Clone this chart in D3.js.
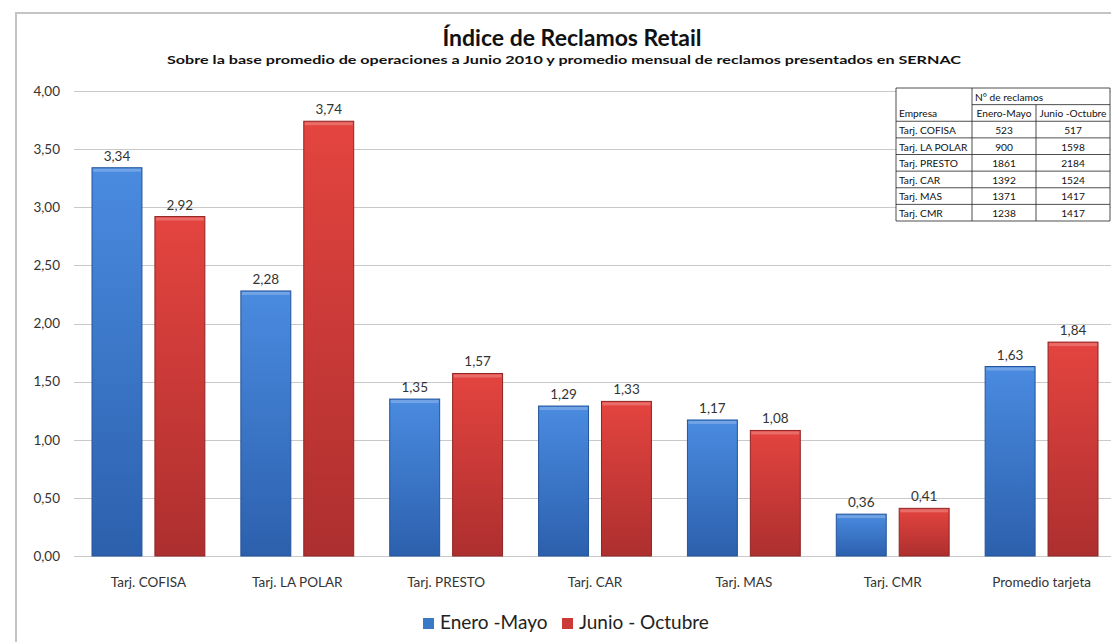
<!DOCTYPE html>
<html>
<head>
<meta charset="utf-8">
<style>
  body { margin: 0; background: #fff; }
  svg { display: block; font-family: Lato, "Open Sans", sans-serif; }
</style>
</head>
<body>
<svg width="1111" height="642"></svg>
<script src="https://d3js.org/d3.v7.min.js"></script>
<script>

// chart data
var categories = ["Tarj. COFISA", "Tarj. LA POLAR", "Tarj. PRESTO", "Tarj. CAR", "Tarj. MAS", "Tarj. CMR", "Promedio tarjeta"];
var seriesNames = ["Enero -Mayo", "Junio - Octubre"];
var eneroMayo = [3.34, 2.28, 1.35, 1.29, 1.17, 0.36, 1.63];
var junioOctubre = [2.92, 3.74, 1.57, 1.33, 1.08, 0.41, 1.84];
var yTicks = [0, 0.5, 1, 1.5, 2, 2.5, 3, 3.5, 4];

// table in the corner
var tableEmpresas = ["Tarj. COFISA", "Tarj. LA POLAR", "Tarj. PRESTO", "Tarj. CAR", "Tarj. MAS", "Tarj. CMR"];
var reclamosEneMay = [523, 900, 1861, 1392, 1371, 1238];
var reclamosJunOct = [517, 1598, 2184, 1524, 1417, 1417];

var svg = d3.select("svg"),
    width = +svg.attr("width"),
    height = +svg.attr("height");

var fmt = function(v) { return d3.format(".2f")(v).replace(".", ","); };

// gradients for the bars
var defs = svg.append("defs");
var grads = [
  {id: "gBlue", top: "#4a8be0", bottom: "#2c60ad"},
  {id: "gRed", top: "#e4443f", bottom: "#ad2f2f"}
];
grads.forEach(function(g) {
  var lg = defs.append("linearGradient").attr("id", g.id)
    .attr("x1", 0).attr("x2", 0).attr("y1", 0).attr("y2", 1);
  lg.append("stop").attr("offset", "0%").attr("stop-color", g.top);
  lg.append("stop").attr("offset", "100%").attr("stop-color", g.bottom);
});
var edgeColors = ["#24549a", "#8f2424"];
var fills = ["url(#gBlue)", "url(#gRed)"];
var swatch = ["#3a78c8", "#cc3a36"];

// chart frame
svg.append("path")
  .attr("d", "M16," + height + "V13H" + width)
  .attr("fill", "none")
  .attr("stroke", "#c4c4c4")
  .attr("stroke-width", 2);

// titles
svg.append("text")
  .attr("x", 572).attr("y", 46)
  .attr("text-anchor", "middle")
  .attr("font-size", 23).attr("font-weight", "bold")
  .attr("fill", "#111")
  .text("Índice de Reclamos Retail");

svg.append("text")
  .attr("x", 564).attr("y", 64)
  .attr("text-anchor", "middle")
  .attr("font-size", 11.5).attr("font-weight", "bold")
  .attr("fill", "#111")
  .attr("textLength", 794).attr("lengthAdjust", "spacingAndGlyphs")
  .text("Sobre la base promedio de operaciones a Junio 2010 y promedio mensual de reclamos presentados en SERNAC");

// scales
var x0 = d3.scaleBand().domain(categories).range([74, 1116]).padding(0);
var x1 = d3.scaleBand().domain(seriesNames)
  .range([18, x0.bandwidth() - 18]).paddingInner(0.206);
var y = d3.scaleLinear().domain([0, 4]).range([556, 91]);

// grid lines
svg.append("g")
  .selectAll("line")
  .data(yTicks)
  .enter().append("line")
  .attr("x1", 74).attr("x2", width)
  .attr("y1", function(d) { return Math.round(y(d)) + 0.5; })
  .attr("y2", function(d) { return Math.round(y(d)) + 0.5; })
  .attr("stroke", "#c9c9c9")
  .attr("stroke-width", 1.2);

// y axis labels
var yAxis = svg.append("g")
  .attr("transform", "translate(62,0)")
  .call(d3.axisLeft(y).tickValues(yTicks).tickSize(0).tickPadding(2).tickFormat(fmt));
yAxis.select(".domain").remove();
yAxis.selectAll("text")
  .attr("font-family", "Lato, 'Open Sans', sans-serif")
  .attr("font-size", 13.5).attr("fill", "#333");

// x axis labels
var xAxis = svg.append("g")
  .attr("transform", "translate(0,571)")
  .call(d3.axisBottom(x0).tickSize(0).tickPadding(6));
xAxis.select(".domain").remove();
xAxis.selectAll("text")
  .attr("font-family", "Lato, 'Open Sans', sans-serif")
  .attr("font-size", 13.5).attr("fill", "#333");

// bars
var rows = categories.map(function(c, i) {
  return {cat: c, vals: [eneroMayo[i], junioOctubre[i]]};
});

var groups = svg.append("g")
  .selectAll("g")
  .data(rows)
  .enter().append("g")
  .attr("transform", function(d) { return "translate(" + x0(d.cat) + ",0)"; });

var bars = groups.selectAll("g")
  .data(function(d) {
    return d.vals.map(function(v, k) { return {s: seriesNames[k], k: k, v: v}; });
  })
  .enter().append("g");

bars.append("rect")
  .attr("x", function(d) { return x1(d.s); })
  .attr("y", function(d) { return y(d.v); })
  .attr("width", x1.bandwidth())
  .attr("height", function(d) { return y(0) - y(d.v); })
  .attr("fill", function(d) { return fills[d.k]; })
  .attr("stroke", function(d) { return edgeColors[d.k]; })
  .attr("stroke-width", 1);

// light bevel on top of each bar
bars.append("rect")
  .attr("x", function(d) { return x1(d.s) + 1; })
  .attr("y", function(d) { return y(d.v) + 1; })
  .attr("width", x1.bandwidth() - 2)
  .attr("height", 3)
  .attr("fill", "#fff")
  .attr("opacity", 0.22);

bars.append("text")
  .attr("x", function(d) { return x1(d.s) + x1.bandwidth() / 2; })
  .attr("y", function(d) { return y(d.v) - 7; })
  .attr("text-anchor", "middle")
  .attr("font-size", 13.5)
  .attr("fill", "#333")
  .text(function(d) { return fmt(d.v); });

// legend
var legendX = d3.scaleOrdinal().domain(seriesNames).range([423, 562]);
var legend = svg.append("g")
  .selectAll("g")
  .data(seriesNames)
  .enter().append("g")
  .attr("transform", function(d) { return "translate(" + legendX(d) + ",618)"; });

legend.append("rect")
  .attr("width", 11).attr("height", 11)
  .attr("fill", function(d, i) { return swatch[i]; });

legend.append("text")
  .attr("x", 17).attr("y", 11)
  .attr("font-size", 19)
  .attr("fill", "#222")
  .text(function(d) { return d; });

// table of complaints
var colX = [896, 972, 1036, 1110];
var tRow = d3.scaleBand()
  .domain(d3.range(tableEmpresas.length + 2))
  .range([88, 221]);
var rh = tRow.bandwidth();

var table = svg.append("g").attr("font-size", 10.2).attr("fill", "#111");

table.append("rect")
  .attr("x", colX[0]).attr("y", tRow(0))
  .attr("width", colX[3] - colX[0]).attr("height", tRow(tableEmpresas.length + 1) + rh - tRow(0))
  .attr("fill", "#fff");

// horizontal rules
var hLines = d3.range(1, tableEmpresas.length + 3);
table.selectAll("line.h")
  .data(hLines)
  .enter().append("line")
  .attr("class", "h")
  .attr("x1", function(d) { return d === 1 ? colX[1] : colX[0]; })
  .attr("x2", colX[3])
  .attr("y1", function(d) { return tRow(d - 1) + rh; })
  .attr("y2", function(d) { return tRow(d - 1) + rh; })
  .attr("stroke", "#222").attr("stroke-width", 0.8);

table.append("line")
  .attr("x1", colX[0]).attr("x2", colX[3])
  .attr("y1", tRow(0)).attr("y2", tRow(0))
  .attr("stroke", "#222").attr("stroke-width", 0.8);

// vertical rules
table.selectAll("line.v")
  .data(colX)
  .enter().append("line")
  .attr("class", "v")
  .attr("x1", function(d) { return d; })
  .attr("x2", function(d) { return d; })
  .attr("y1", function(d, i) { return i === 2 ? tRow(1) : tRow(0); })
  .attr("y2", tRow(tableEmpresas.length + 1) + rh)
  .attr("stroke", "#222").attr("stroke-width", 0.8);

table.append("text")
  .attr("x", colX[1] + 3).attr("y", tRow(0) + rh - 4)
  .text("N° de reclamos");
table.append("text")
  .attr("x", colX[0] + 3).attr("y", tRow(1) + rh - 4)
  .text("Empresa");
table.append("text")
  .attr("x", (colX[1] + colX[2]) / 2).attr("y", tRow(1) + rh - 4)
  .attr("text-anchor", "middle")
  .text("Enero-Mayo");
table.append("text")
  .attr("x", (colX[2] + colX[3]) / 2).attr("y", tRow(1) + rh - 4)
  .attr("text-anchor", "middle")
  .text("Junio -Octubre");

tableEmpresas.forEach(function(e, i) {
  var yy = tRow(i + 2) + rh - 4;
  table.append("text").attr("x", colX[0] + 3).attr("y", yy).text(e);
  table.append("text").attr("x", (colX[1] + colX[2]) / 2).attr("y", yy)
    .attr("text-anchor", "middle").text(reclamosEneMay[i]);
  table.append("text").attr("x", (colX[2] + colX[3]) / 2).attr("y", yy)
    .attr("text-anchor", "middle").text(reclamosJunOct[i]);
});

</script>
</body>
</html>
